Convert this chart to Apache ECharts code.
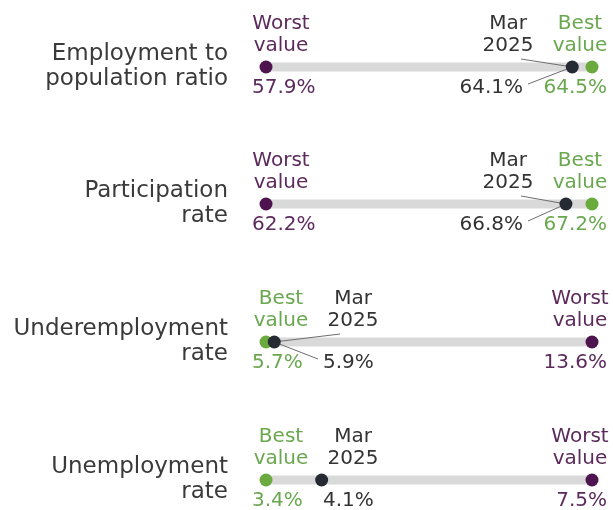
<!DOCTYPE html>
<html>
<head>
<meta charset="utf-8">
<script src="https://cdn.jsdelivr.net/npm/echarts@6/dist/echarts.min.js"></script>
<style>
  html, body { margin: 0; padding: 0; background: #ffffff; }
  #chart { width: 613px; height: 510px; }
</style>
</head>
<body>
<div id="chart"></div>
<script>
// Labour market indicators: worst value, latest (Mar 2025) and best value
const rowNames = ['Employment to\npopulation ratio', 'Participation\nrate', 'Underemployment\nrate', 'Unemployment\nrate'];
const worstValues = [57.9, 62.2, 13.6, 7.5];
const currentValues = [64.1, 66.8, 5.9, 4.1];
const bestValues = [64.5, 67.2, 5.7, 3.4];
const worstLabel = 'Worst\nvalue';
const bestLabel = 'Best\nvalue';
const currentLabel = 'Mar\n2025';

// Styling / layout
const FONT = '"DejaVu Sans", sans-serif';
const rowCenters = [67, 204, 342, 480];
const COLORS = {
  worst: { dot: '#4e1450', text: '#5c2a5c' },
  best: { dot: '#6aaa3f', text: '#6aa84f' },
  current: { dot: '#262b33', text: '#333333' }
};
const DOT_R = 6.5;

const chart = echarts.init(document.getElementById('chart'), null, { renderer: 'canvas' });

const grids = [], xAxes = [], yAxes = [], series = [];

rowNames.forEach((name, i) => {
  const lo = Math.min(worstValues[i], bestValues[i]);
  const hi = Math.max(worstValues[i], bestValues[i]);
  grids.push({ left: 266, right: 21, top: rowCenters[i] - 10, height: 20 });
  xAxes.push({ type: 'value', gridIndex: i, min: lo, max: hi, show: false });
  yAxes.push({
    type: 'category', gridIndex: i, data: [name],
    axisLine: { show: false }, axisTick: { show: false }, splitLine: { show: false },
    axisLabel: { color: '#3a3a3a', fontSize: 23, lineHeight: 25, fontFamily: FONT, margin: 38, align: 'right' }
  });

  // grey track from worst to best
  series.push({
    type: 'line', xAxisIndex: i, yAxisIndex: i, silent: true, z: 1,
    symbol: 'none', animation: false,
    lineStyle: { color: '#d9d9d9', width: 9, cap: 'butt' },
    data: [[worstValues[i], 0], [bestValues[i], 0]]
  });

  // dots with their labels; kind 0 = worst, 1 = best, 2 = current
  series.push({
    type: 'custom', xAxisIndex: i, yAxisIndex: i, z: 2,
    coordinateSystem: 'cartesian2d',
    data: [[worstValues[i], 0, 0], [bestValues[i], 0, 1], [currentValues[i], 0, 2]],
    renderItem: function (params, api) {
      const v = api.value(0);
      const kind = api.value(2);
      const pt = api.coord([v, 0]);
      const x = pt[0], y = pt[1];
      const bestX = api.coord([bestValues[i], 0])[0];
      const worstX = api.coord([worstValues[i], 0])[0];
      const bestRight = bestX > worstX;
      const key = kind === 0 ? 'worst' : kind === 1 ? 'best' : 'current';
      const col = COLORS[key];
      const title = kind === 0 ? worstLabel : kind === 1 ? bestLabel : currentLabel;
      const valueText = v.toFixed(1) + '%';

      // titles are centred two-line blocks; values are edge-aligned
      let align, titleX, valueX;
      if (kind === 2) {
        if (bestRight) { align = 'right'; titleX = bestX - 84; valueX = bestX - 69; }
        else { align = 'left'; titleX = bestX + 87; valueX = bestX + 57; }
      } else {
        const onRight = x > (bestX + worstX) / 2;
        align = onRight ? 'right' : 'left';
        titleX = onRight ? x - 12 : x + 15;
        valueX = onRight ? x + 15 : x - 14;
      }

      const children = [];
      if (kind === 2) {
        const dir = align === 'right' ? 1 : -1;
        const clear = align === 'right' ? (x - DOT_R > valueX) : (x + DOT_R < valueX);
        if (clear) {
          const ls = { stroke: '#6e6e6e', lineWidth: 1 };
          children.push({ type: 'line', shape: { x1: titleX + 13 * dir, y1: y - 8, x2: x, y2: y }, style: ls });
          children.push({ type: 'line', shape: { x1: valueX + 5 * dir, y1: y + 17, x2: x, y2: y }, style: ls });
        }
      }
      children.push({ type: 'circle', shape: { cx: x, cy: y, r: DOT_R }, style: { fill: col.dot } });
      children.push({
        type: 'text', x: titleX, y: y - 10,
        style: { text: title, fill: col.text, fontSize: 20, fontFamily: FONT, lineHeight: 22, align: 'center', verticalAlign: 'bottom' }
      });
      children.push({
        type: 'text', x: valueX, y: y + 10,
        style: { text: valueText, fill: col.text, fontSize: 20, fontFamily: FONT, lineHeight: 22, align: align, verticalAlign: 'top' }
      });
      return { type: 'group', children: children };
    }
  });
});

chart.setOption({
  animation: false,
  backgroundColor: '#ffffff',
  textStyle: { fontFamily: FONT },
  grid: grids,
  xAxis: xAxes,
  yAxis: yAxes,
  series: series
});
</script>
</body>
</html>
